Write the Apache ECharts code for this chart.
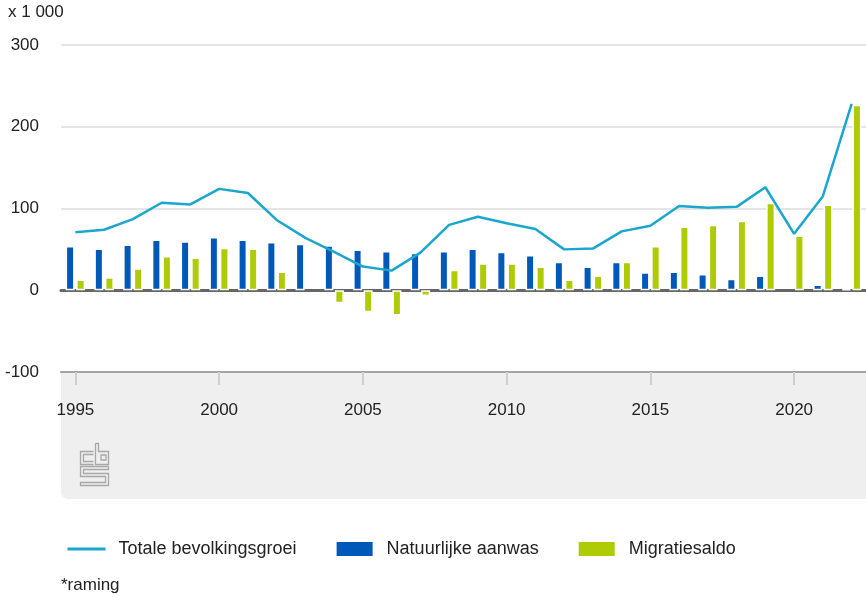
<!DOCTYPE html>
<html>
<head>
<meta charset="utf-8">
<script src="https://cdn.jsdelivr.net/npm/echarts@6/dist/echarts.min.js"></script>
<style>
html,body{margin:0;padding:0;background:#fff;}
#chart{width:866px;height:597px;}
</style>
</head>
<body>
<div id="chart"></div>
<script>
var years = ['1995','1996','1997','1998','1999','2000','2001','2002','2003','2004','2005','2006','2007','2008','2009','2010','2011','2012','2013','2014','2015','2016','2017','2018','2019','2020','2021','2022'];
var totaleGroei = [71, 74, 87, 107, 105, 124, 119, 86, 64, 47, 29, 24, 46, 80, 90, 82, 75, 50, 51, 72, 79, 103, 101, 102, 126, 69, 115, 228];
var natuurlijkeAanwas = [54, 51, 56, 62, 60, 65, 62, 59, 57, 55, 50, 48, 46, 48, 51, 47, 43, 35, 29, 35, 22, 23, 20, 14, 18, null, 7, 1];
var migratiesaldo = [13, 16, 27, 42, 40, 52, 51, 23, null, -16, -27, -31, -7, 25, 33, 33, 29, 13, 18, 35, 54, 78, 80, 85, 107, 67, 105, 227];
var yTicks = [-100, 0, 100, 200, 300];
var seriesNames = ['Totale bevolkingsgroei', 'Natuurlijke aanwas', 'Migratiesaldo'];

var FONT = 'Liberation Sans, Arial, sans-serif';
var chart = echarts.init(document.getElementById('chart'), null, {renderer: 'canvas'});

var option = {
  animation: false,
  backgroundColor: '#ffffff',
  textStyle: {fontFamily: FONT},
  grid: {left: 61, top: 45, width: 808, height: 327, containLabel: false},
  xAxis: [
    {
      type: 'category',
      data: years,
      position: 'bottom',
      boundaryGap: true,
      axisLine: {onZero: false, lineStyle: {color: '#a3a3a3', width: 2}},
      axisTick: {show: true, interval: 4, alignWithLabel: true, length: 13, lineStyle: {color: '#cfcfcf', width: 2}},
      axisLabel: {interval: 4, margin: 30, color: '#222', fontSize: 17, fontFamily: FONT},
      splitLine: {show: false}
    },
    {
      type: 'category',
      data: years,
      position: 'top',
      boundaryGap: true,
      axisLine: {onZero: true, lineStyle: {color: '#666666', width: 3}},
      axisTick: {show: false},
      axisLabel: {show: false},
      splitLine: {show: false}
    }
  ],
  yAxis: {
    type: 'value',
    min: yTicks[0],
    max: yTicks[yTicks.length - 1],
    interval: 100,
    axisLine: {show: false},
    axisTick: {show: false},
    axisLabel: {margin: 22, color: '#222', fontSize: 17, fontFamily: FONT},
    splitLine: {show: true, lineStyle: {color: '#dcdcdc', width: 1.5}}
  },
  legend: {
    left: 61,
    top: 535,
    itemWidth: 38,
    itemHeight: 16,
    itemGap: 38,
    data: [
      {name: seriesNames[0], itemStyle: {color: 'rgba(0,0,0,0)', borderWidth: 0, opacity: 0}, lineStyle: {width: 3, color: '#1ba6cd'}},
      {name: seriesNames[1], icon: 'rect'},
      {name: seriesNames[2], icon: 'rect'}
    ],
    textStyle: {fontSize: 18, color: '#222', fontFamily: FONT, padding: [0, 0, 0, 8]}
  },
  graphic: [
    {type: 'rect', z: -5, silent: true, shape: {x: 61, y: 372, width: 830, height: 127, r: [0, 0, 0, 7]}, style: {fill: '#efefef'}},
    {type: 'text', left: 8, top: 4, style: {text: 'x 1 000', fontSize: 17, fill: '#222', font: '17px ' + FONT}},
    {type: 'text', left: 61, top: 577, style: {text: '*raming', fontSize: 17, fill: '#222', font: '17px ' + FONT}},
    {type: 'group', left: 78, top: 441, children: [
      {type: 'polyline', shape: {points: [[13, 8], [0, 8], [0, 21], [13, 21]]}, style: {stroke: '#a8a8a8', lineWidth: 1.3, fill: null}},
      {type: 'polyline', shape: {points: [[13, 11], [3, 11], [3, 18], [13, 18]]}, style: {stroke: '#a8a8a8', lineWidth: 1.3, fill: null}},
      {type: 'polyline', shape: {points: [[15, 0], [15, 21], [28, 21], [28, 8], [18, 8], [18, 0], [15, 0]]}, style: {stroke: '#a8a8a8', lineWidth: 1.3, fill: null}},
      {type: 'rect', shape: {x: 20.5, y: 11.5, width: 5, height: 5}, style: {stroke: '#a8a8a8', lineWidth: 1.3, fill: null}},
      {type: 'polyline', shape: {points: [[28, 23], [0, 23], [0, 33], [25, 33], [25, 39], [0, 39], [0, 42], [28, 42], [28, 30], [3, 30], [3, 26], [28, 26], [28, 23]]}, style: {stroke: '#a8a8a8', lineWidth: 1.3, fill: null}}
    ]}
  ],
  series: [
    {
      name: seriesNames[1],
      type: 'bar',
      xAxisIndex: 0,
      data: natuurlijkeAanwas,
      barWidth: 9,
      barGap: '17%',
      itemStyle: {color: '#0058b8', borderColor: '#ffffff', borderWidth: 1.5},
      z: 2
    },
    {
      name: seriesNames[2],
      type: 'bar',
      xAxisIndex: 0,
      data: migratiesaldo,
      barWidth: 9,
      barGap: '17%',
      itemStyle: {color: '#afcb05', borderColor: '#ffffff', borderWidth: 1.5},
      z: 2
    },
    {
      name: seriesNames[0],
      type: 'line',
      xAxisIndex: 0,
      data: totaleGroei,
      symbol: 'none',
      showSymbol: false,
      lineStyle: {color: '#1ba6cd', width: 2.5},
      itemStyle: {color: '#1ba6cd'},
      z: 3
    }
  ]
};
chart.setOption(option);
</script>
</body>
</html>
